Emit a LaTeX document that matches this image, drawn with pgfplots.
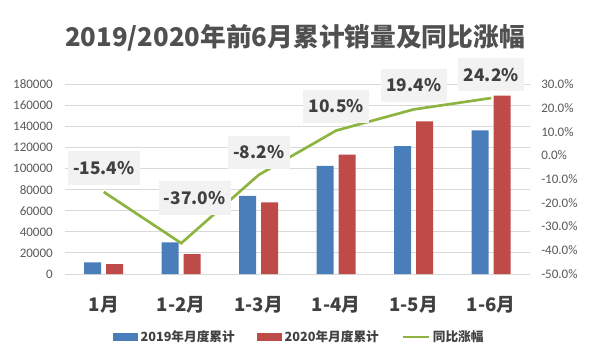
\documentclass[border=0pt]{standalone}
\usepackage{pgfplots}
\pgfplotsset{compat=1.18}
\usepackage{pgfplotstable}
\usepackage{fontspec}
\setmainfont{Carlito}
\newfontfamily\cjk{Noto Sans CJK SC}
\definecolor{cblue}{HTML}{4A7EBB}
\definecolor{cred}{HTML}{BE4B48}
\definecolor{cgreen}{HTML}{8DB441}
\definecolor{tgray}{HTML}{595959}
\definecolor{dgray}{HTML}{404040}
\definecolor{gridc}{HTML}{D9D9D9}
\definecolor{boxc}{HTML}{F2F2F2}

\pgfplotstableread{
x y19 y20
0 11000 9300
1 30000 18900
2 74100 68000
3 102600 113300
4 121200 144700
5 136200 169200
}\sales

\pgfplotstableread{
x r dx dy
0 -15.4 0 18
1 -37.0 10 34
2 -8.2 0 17
3 10.5 0 18
4 19.4 0 18
5 24.2 0 17.5
}\rate

\begin{document}
\begin{tikzpicture}[x=1pt,y=1pt]
\path[use as bounding box] (0,0) rectangle (450,271.5);
\node[font=\cjk\bfseries\fontsize{19.3}{23}\selectfont, text=tgray!90!black] at (221.25,243) {2019/2020年前6月累计销量及同比涨幅};
\begin{axis}[
  at={(48.75pt,66pt)}, anchor=south west,
  width=348.75pt, height=142.3pt, scale only axis,
  xmin=-0.5, xmax=5.5, ymin=0, ymax=180000,
  xtick={0,1,2,3,4,5},
  xticklabels={1月,1-2月,1-3月,1-4月,1-5月,1-6月},
  ytick={0,20000,...,180000},
  scaled y ticks=false,
  axis line style={draw=none},
  major tick length=0pt,
  ymajorgrids, major grid style={gridc, line width=0.75pt},
  /pgf/number format/assume math mode=true,
  yticklabel style={/pgf/number format/fixed, /pgf/number format/1000 sep={},
    font=\fontsize{9.75}{11}\selectfont, text=tgray, anchor=east, inner sep=0pt, xshift=-9pt},
  xticklabel style={font=\cjk\bfseries\fontsize{14}{16}\selectfont, text=dgray,
    anchor=center, inner sep=0pt, yshift=-23pt},
]
\addplot[ybar, bar width=12.75pt, bar shift=-8.25pt, fill=cblue, draw=none] table[x=x,y=y19]{\sales};
\addplot[ybar, bar width=12.75pt, bar shift=8.25pt, fill=cred, draw=none] table[x=x,y=y20]{\sales};
\end{axis}
\begin{axis}[
  at={(48.75pt,66pt)}, anchor=south west,
  width=348.75pt, height=142.3pt, scale only axis,
  xmin=-0.5, xmax=5.5, ymin=-50, ymax=30,
  axis y line*=right,
  xtick=\empty,
  ytick={-50,-40,...,30},
  axis line style={draw=none},
  major tick length=0pt,
  /pgf/number format/assume math mode=true,
  yticklabel={\pgfmathprintnumber[fixed,fixed zerofill,precision=1]{\tick}\%},
  yticklabel style={font=\fontsize{9.75}{11}\selectfont, text=tgray, anchor=west, inner sep=0pt, xshift=8.25pt},
  clip=false,
  legend columns=3,
  legend style={at={(0.505,-0.332)}, anchor=center, draw=none, fill=none,
    font=\cjk\bfseries\fontsize{9.5}{11}\selectfont, text=dgray,
    /tikz/every even column/.append style={column sep=15pt}},
  legend cell align=left,
]
\addlegendimage{legend image code/.code={\fill[cblue] (0pt,-2.5pt) rectangle (18pt,2.5pt);}}
\addlegendentry{2019年月度累计}
\addlegendimage{legend image code/.code={\fill[cred] (0pt,-2.5pt) rectangle (18pt,2.5pt);}}
\addlegendentry{2020年月度累计}
\addplot[cgreen, line width=2pt, point meta=y,
  legend image code/.code={\draw[cgreen, line width=1.5pt] (0pt,0pt) -- (20pt,0pt);},
  visualization depends on={\thisrow{dx} \as \dx},
  visualization depends on={\thisrow{dy} \as \dy},
  nodes near coords={\pgfmathprintnumber[fixed,fixed zerofill,precision=1]{\pgfplotspointmeta}\%},
  every node near coord/.append style={anchor=center, xshift=\dx pt, yshift=\dy pt,
    fill=boxc, text=dgray, font=\cjk\bfseries\fontsize{13}{15}\selectfont,
    inner xsep=4pt, minimum height=25pt}
] table[x=x,y=r]{\rate};
\addlegendentry{同比涨幅}
\end{axis}
\end{tikzpicture}
\end{document}
